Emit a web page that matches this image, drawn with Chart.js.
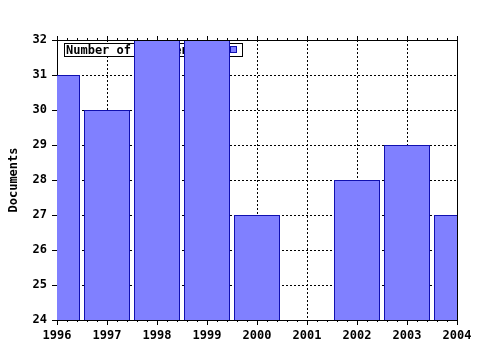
<!DOCTYPE html>
<html>
<head>
<meta charset="utf-8">
<script src="https://cdn.jsdelivr.net/npm/chart.js@4"></script>
<style>
  html, body { margin: 0; padding: 0; background: #fff; }
  #wrap { width: 480px; height: 350px; }
</style>
</head>
<body>
<div id="wrap"><canvas id="docChart" width="480" height="350"></canvas></div>
<script>
// data
const years = ["1996", "1997", "1998", "1999", "2000", "2001", "2002", "2003", "2004"];
const documents = [31, 30, 32, 32, 27, null, 28, 29, 27];
const yMin = 24;
const yMax = 32;
const yStep = 1;
const seriesLabel = "Number of documents";
const axisTitle = "Documents";

const FONT = "DejaVu Sans Mono";
const BAR_FILL = "#8080ff";
const BAR_EDGE = "#1010b0";

// legend box sits inside the plot, under the bars
const insideLegend = {
  id: "insideLegend",
  beforeDatasetsDraw(chart) {
    const ctx = chart.ctx;
    const a = chart.chartArea;
    const x = a.left + 7, y = a.top + 3, w = 178, h = 13;
    ctx.save();
    ctx.fillStyle = "#fff";
    ctx.fillRect(x, y, w, h);
    ctx.strokeStyle = "#000";
    ctx.lineWidth = 1;
    ctx.strokeRect(x + 0.5, y + 0.5, w, h);
    ctx.font = "bold 12px '" + FONT + "'";
    ctx.fillStyle = "#000";
    ctx.textBaseline = "middle";
    ctx.fillText(seriesLabel, x + 2, y + h / 2 + 1);
    ctx.fillStyle = BAR_FILL;
    ctx.fillRect(x + 166, y + 3, 6, 6);
    ctx.strokeStyle = BAR_EDGE;
    ctx.strokeRect(x + 166.5, y + 3.5, 6, 6);
    ctx.restore();
  }
};

// top/right frame and the small ticks between years
const frame = {
  id: "frame",
  afterDraw(chart) {
    const ctx = chart.ctx;
    const a = chart.chartArea;
    const xs = chart.scales.x;
    ctx.save();
    ctx.strokeStyle = "#000";
    ctx.lineWidth = 1;
    ctx.beginPath();
    ctx.moveTo(a.left, a.top + 0.5);
    ctx.lineTo(a.right + 0.5, a.top + 0.5);
    ctx.lineTo(a.right + 0.5, a.bottom);
    ctx.stroke();
    ctx.beginPath();
    for (let i = 0; i < years.length; i++) {
      const px = Math.round(xs.getPixelForValue(i)) + 0.5;
      ctx.moveTo(px, a.top);
      ctx.lineTo(px, a.top - 4);
      if (i < years.length - 1) {
        for (let k = 1; k < 5; k++) {
          const mx = Math.round(xs.getPixelForValue(i + k / 5)) + 0.5;
          ctx.moveTo(mx, a.bottom);
          ctx.lineTo(mx, a.bottom + 2);
          ctx.moveTo(mx, a.top);
          ctx.lineTo(mx, a.top - 2);
        }
      }
    }
    ctx.stroke();
    ctx.restore();
  }
};

const tickFont = { family: FONT, weight: "bold", size: 12 };

new Chart(document.getElementById("docChart").getContext("2d"), {
  type: "bar",
  data: {
    labels: years,
    datasets: [{
      label: seriesLabel,
      data: documents,
      backgroundColor: BAR_FILL,
      borderColor: BAR_EDGE,
      borderWidth: 1,
      borderSkipped: false,
      inflateAmount: 0,
      barPercentage: 0.92,
      categoryPercentage: 1
    }]
  },
  options: {
    responsive: false,
    animation: false,
    devicePixelRatio: 1,
    layout: { padding: { left: 0, top: 40, right: 23, bottom: 0 } },
    plugins: {
      legend: { display: false },
      tooltip: { enabled: false }
    },
    scales: {
      x: {
        type: "category",
        offset: false,
        grid: {
          offset: false,
          color: "#000",
          lineWidth: 1,
          tickLength: 5,
          tickColor: "#000",
          tickBorderDash: []
        },
        border: { display: true, color: "#000", width: 1, dash: [2, 2] },
        ticks: { color: "#000", font: tickFont, maxRotation: 0, autoSkip: false, padding: 4 },
        afterFit(s) { s.height = 30; }
      },
      y: {
        min: yMin,
        max: yMax,
        grid: {
          color: "#000",
          lineWidth: 1,
          tickLength: 5,
          tickColor: "#000",
          tickBorderDash: []
        },
        border: { display: true, color: "#000", width: 1, dash: [2, 2] },
        ticks: { stepSize: yStep, color: "#000", font: tickFont, padding: 5 },
        title: {
          display: true,
          text: axisTitle,
          color: "#000",
          font: tickFont,
          padding: { top: 7, bottom: 0 }
        },
        afterFit(s) { s.width = 57; }
      }
    }
  },
  plugins: [insideLegend, frame]
});
</script>
</body>
</html>
